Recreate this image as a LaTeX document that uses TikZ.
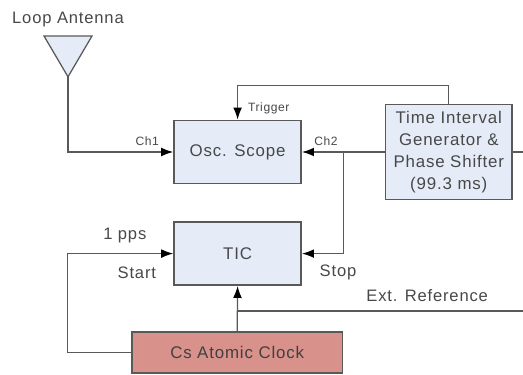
\documentclass[tikz,border=0pt]{standalone}
\usepackage{fontspec}
\setmainfont[LetterSpace=5]{Liberation Sans}
\usetikzlibrary{arrows.meta}
\definecolor{fblue}{HTML}{E6ECF7}
\definecolor{fred}{HTML}{D9918C}
\definecolor{fline}{HTML}{595959}
\definecolor{ftext}{HTML}{484848}
\tikzset{
  block/.style  = {draw=fline, line width=1.1pt, fill=fblue, rectangle, align=center,
                   text=ftext, font=\fontsize{12}{15.6}\selectfont, inner sep=0pt},
  sig/.style    = {-{Latex[length=3mm,width=2.2mm,color=black]}, draw=fline, line width=0.9pt},
  wire/.style   = {draw=fline, line width=0.9pt},
  lab/.style    = {text=ftext, font=\fontsize{11.8}{14}\selectfont, inner sep=0pt},
  tinylab/.style= {text=ftext, font=\fontsize{8.6}{10}\selectfont, inner sep=0pt},
}
\begin{document}
\begin{tikzpicture}[x=1cm,y=1cm]
\useasboundingbox (0,0) rectangle (13.075,9.35);
\node[block,minimum width=3.18cm,minimum height=1.58cm] (Osc) at (5.94,5.55) {Osc. Scope};
\node[block,minimum width=3.18cm,minimum height=1.58cm] (TIC) at (5.94,3.01) {TIC};
\node[block,minimum width=3.17cm,minimum height=2.38cm] (TIG) at (11.22,5.55)
  {Time Interval\\Generator \&\\Phase Shifter\\(99.3 ms)};
\node[block,fill=fred,text=black!75,minimum width=5.27cm,minimum height=1.03cm] (Cs) at (5.93,0.54) {Cs Atomic Clock};
% antenna
\coordinate (AntL) at (1.10,8.45);
\coordinate (AntR) at (2.30,8.45);
\coordinate (AntTip) at (1.70,7.43);
\draw[wire,fill=fblue] (AntL) -- (AntR) -- (AntTip) -- cycle;
\node[lab] (AntLab) at (1.70,8.85) {Loop Antenna};
\draw[sig] (AntTip) |- (Osc.west);
% trigger and channel 2
\coordinate (TrigTop) at (5.94,7.21);
\coordinate (Tee) at (8.58,5.55);
\coordinate (OutR) at (13.075,5.55);
\draw[sig] (TIG.north) |- (TrigTop) -- (Osc.north);
\draw[sig] (TIG.west) -- (Osc.east);
\draw[sig] (Tee) |- (TIC.east);
\draw[wire] (TIG.east) -- (OutR);
% clock outputs
\coordinate (StartC) at (1.69,3.01);
\coordinate (ExtL) at (5.94,1.575);
\coordinate (ExtR) at (13.075,1.575);
\draw[sig] (Cs.west) -| (StartC) -- (TIC.west);
\draw[sig] (Cs.north) -- (TIC.south);
\draw[wire] (ExtL) -- (ExtR);
\node[tinylab] (Ch1) at (3.68,5.83) {Ch1};
\node[tinylab] (Ch2) at (8.15,5.83) {Ch2};
\node[tinylab] (Trig) at (6.72,6.65) {Trigger};
\node[lab] (Pps) at (3.12,3.47) {1 pps};
\node[lab] (Start) at (3.42,2.53) {Start};
\node[lab] (Stop) at (8.45,2.53) {Stop};
\node[lab] (Ext) at (10.68,1.95) {Ext. Reference};
\end{tikzpicture}
\end{document}
